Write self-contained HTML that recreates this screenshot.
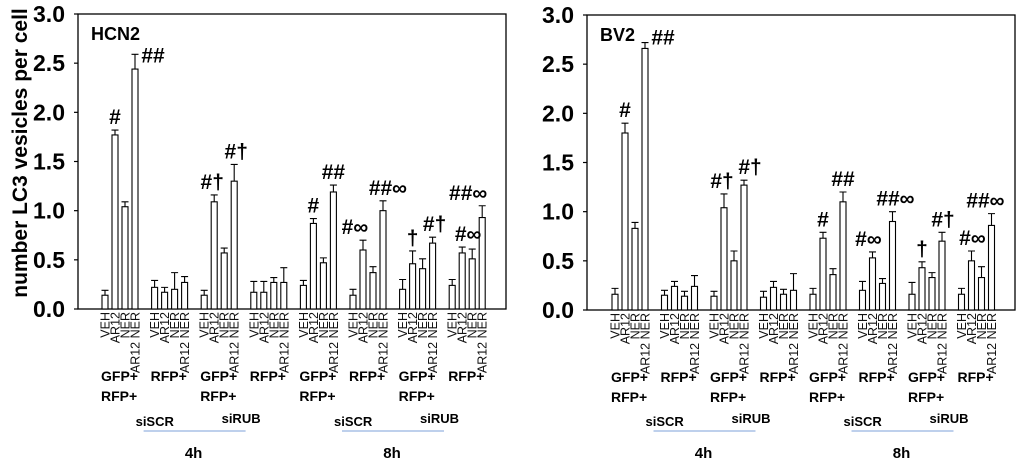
<!DOCTYPE html>
<html><head><meta charset="utf-8">
<style>
html,body{margin:0;padding:0;background:#fff;}
svg{display:block;font-family:"Liberation Sans",Arial,sans-serif;}
</style></head>
<body>
<svg id="chart" width="1020" height="463" viewBox="0 0 1020 463" xmlns="http://www.w3.org/2000/svg"></svg>
<script>
const conditions = ["VEH","AR12","NER","AR12 NER"];
const groupLabels = [["GFP+","RFP+"],["RFP+"],["GFP+","RFP+"],["RFP+"],["GFP+","RFP+"],["RFP+"],["GFP+","RFP+"],["RFP+"]];
const yTicks = [0,0.5,1.0,1.5,2.0,2.5,3.0];
const yTickLabels = ["0.0","0.5","1.0","1.5","2.0","2.5","3.0"];
const hcn2Values = [
 [0.14,1.77,1.04,2.44],[0.22,0.17,0.20,0.27],[0.14,1.09,0.57,1.30],[0.17,0.17,0.27,0.27],
 [0.24,0.87,0.47,1.19],[0.14,0.60,0.37,1.00],[0.20,0.46,0.41,0.67],[0.24,0.57,0.51,0.93]];
const hcn2Errors = [
 [0.05,0.05,0.05,0.15],[0.07,0.05,0.17,0.06],[0.05,0.07,0.05,0.17],[0.11,0.11,0.05,0.15],
 [0.05,0.05,0.05,0.07],[0.06,0.10,0.06,0.10],[0.10,0.13,0.10,0.06],[0.06,0.06,0.10,0.12]];
const bv2Values = [
 [0.16,1.80,0.83,2.66],[0.15,0.24,0.14,0.24],[0.14,1.04,0.50,1.27],[0.13,0.23,0.16,0.20],
 [0.16,0.73,0.36,1.10],[0.20,0.53,0.27,0.90],[0.16,0.43,0.33,0.70],[0.16,0.50,0.33,0.86]];
const bv2Errors = [
 [0.06,0.10,0.06,0.06],[0.05,0.05,0.05,0.11],[0.05,0.14,0.10,0.05],[0.06,0.06,0.05,0.17],
 [0.06,0.06,0.06,0.10],[0.09,0.06,0.05,0.10],[0.12,0.06,0.05,0.09],[0.06,0.10,0.11,0.12]];
// annotations: [group, bar, text, dx, dy]
const hcn2Annot = [[0,1,"#",0,0],[0,3,"##",18,14],[2,1,"#†",-2,0],[2,3,"#†",2,0],[4,1,"#",0,0],[4,3,"##",0,0],
 [5,1,"#∞",-8,0],[5,3,"##∞",5,0],[6,1,"†",0,0],[6,3,"#†",2,0],[7,1,"#∞",6,0],[7,3,"##∞",-14,0]];
const bv2Annot = [[0,1,"#",0,0],[0,3,"##",18,8],[2,1,"#†",-2,0],[2,3,"#†",6,0],[4,1,"#",0,0],[4,3,"##",0,0],
 [5,1,"#∞",-4,0],[5,3,"##∞",3,0],[6,1,"†",0,0],[6,3,"#†",1,0],[7,1,"#∞",1,0],[7,3,"##∞",-6,0]];

const NS="http://www.w3.org/2000/svg";
const svg=document.getElementById('chart');
function mk(tag,attrs,parent,text){const e=document.createElementNS(NS,tag);for(const k in attrs)e.setAttribute(k,attrs[k]);if(text!==undefined)e.textContent=text;(parent||svg).appendChild(e);return e;}

function panel(cfg){
  const g=mk('g',{});
  
  
  const L=cfg.left,R=cfg.right,T=cfg.top,B=cfg.bottom;
  const y=v=>B-(v/3.0)*(B-T);
  const bx=(gi,bi)=>cfg.firstBar+gi*cfg.pitch+bi*10;
  const frame=mk('rect',{x:L,y:T,width:R-L,height:B-T,fill:'none',stroke:'#000','stroke-width':1.3},g);
  
  
  yTicks.forEach((t,i)=>{
    const tk=mk('line',{x1:L-4,x2:L,y1:y(t),y2:y(t),stroke:'#000','stroke-width':1.2},g);
    
    
    const tl=mk('text',{x:L-13,y:y(t)+8,'text-anchor':'end','font-size':23,'font-weight':'bold'},g,yTickLabels[i]);
    
    
  });
  const ttl=mk('text',{x:L+13,y:T+26,'font-size':18,'font-weight':'bold'},g,cfg.title);
  
  
  cfg.values.forEach((grp,gi)=>{
    grp.forEach((v,bi)=>{
      const x=bx(gi,bi), e=cfg.errors[gi][bi], cx=x+3;
      const eb=mk('path',{d:`M${cx} ${y(v)} V${y(v+e)} M${cx-3.5} ${y(v+e)} H${cx+3.5}`,stroke:'#000','stroke-width':1.1,fill:'none'},g);
      
      
      const r=mk('rect',{x:x,y:y(v),width:6,height:B-y(v),fill:'#fff',stroke:'#000','stroke-width':1.1},g);
      
      
      const lb=mk('text',{transform:`translate(${cx+4.5},${B+3}) rotate(-90)`,'text-anchor':'end','font-size':12.5,fill:'#111'},g,conditions[bi]);
      
      
    });
    const gx=bx(gi,0)-1;
    groupLabels[gi].forEach((s,li)=>{
      const t=mk('text',{x:gx,y:B+72+li*20,'font-size':14,'font-weight':'bold'},g,s);
      
      
    });
  });
  cfg.annot.forEach(a=>{
    const [gi,bi,txt,dx,dy]=a;
    const v=cfg.values[gi][bi]+cfg.errors[gi][bi];
    const t=mk('text',{x:bx(gi,bi)+3+dx,y:y(v)-6+dy,'text-anchor':'middle','font-size':21,'font-weight':'bold'},g,txt);
    
    
  });
  cfg.times.forEach((tm,ti)=>{
    const x0=bx(ti*4+1,0);
    const l=mk('line',{x1:x0-8,x2:x0+94,y1:431,y2:431,stroke:'#a9c1e6','stroke-width':1.5},g);
    
    
    const s1=mk('text',{x:x0-16,y:426,'font-size':13,'font-weight':'bold'},g,'siSCR');
    
    
    const s2=mk('text',{x:x0+70,y:423,'font-size':13,'font-weight':'bold'},g,'siRUB');
    
    
    const tt=mk('text',{x:x0+42,y:458,'text-anchor':'middle','font-size':15,'font-weight':'bold'},g,tm);
    
    
  });
}
panel({name:'hcn2',title:'HCN2',left:78,right:506,top:14,bottom:309,firstBar:102,pitch:49.6,values:hcn2Values,errors:hcn2Errors,annot:hcn2Annot,times:['4h','8h']});
panel({name:'bv2',title:'BV2',left:587,right:1015,top:15,bottom:310,firstBar:612,pitch:49.5,values:bv2Values,errors:bv2Errors,annot:bv2Annot,times:['4h','8h']});
const yt=mk('text',{transform:'translate(27,153) rotate(-90)','text-anchor':'middle','font-size':21,'font-weight':'bold'},svg,'number LC3 vesicles per cell');


</script>
</body></html>
